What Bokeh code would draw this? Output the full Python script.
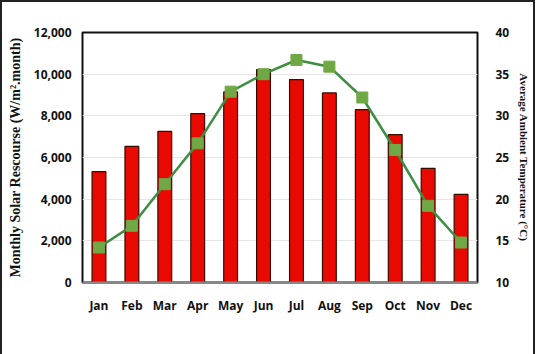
from bokeh.plotting import figure
from bokeh.models import Range1d, LinearAxis, NumeralTickFormatter, Legend, LegendItem, FixedTicker, ColumnDataSource
from bokeh.embed import file_html
from bokeh.resources import INLINE

months = ["Jan", "Feb", "Mar", "Apr", "May", "Jun", "Jul", "Aug", "Sep", "Oct", "Nov", "Dec"]
solar = [5320, 6530, 7250, 8110, 9150, 10220, 9740, 9100, 8300, 7100, 5480, 4230]
temp = [14.2, 16.8, 21.8, 26.7, 32.9, 35.0, 36.7, 35.9, 32.2, 25.9, 19.2, 14.8]

src = ColumnDataSource(dict(m=months, solar=solar, temp=temp))

p = figure(x_range=months, y_range=Range1d(0, 12000), frame_width=395, frame_height=250,
           output_backend="svg", toolbar_location=None,
           min_border_left=80, min_border_right=55, min_border_top=30, min_border_bottom=6)
p.styles = {"border": "2px solid #222222"}
p.extra_y_ranges = {"temp": Range1d(10, 40)}

bars = p.vbar(x="m", top="solar", width=0.42, source=src,
              fill_color="#E80A00", line_color="#3a0a00", line_width=1.2)
line = p.line(x="m", y="temp", source=src, y_range_name="temp",
              line_color="#3E8E41", line_width=2.5)
sq = p.scatter(x="m", y="temp", source=src, y_range_name="temp", marker="square",
               size=11, fill_color="#70A845", line_color="#70A845")

# legend swatch proxy
dummy_bar = p.scatter(x=[], y=[], marker="square", size=10,
                      fill_color="#8B3A0A", line_color="#F4A6E6")

p.outline_line_color = "#111111"
p.outline_line_width = 2

p.xgrid.grid_line_color = None
p.ygrid.grid_line_color = "#E6E6E6"
p.ygrid.ticker = FixedTicker(ticks=[2000, 4000, 6000, 8000, 10000, 12000])

ax = p.yaxis[0]
ax.ticker = FixedTicker(ticks=[0, 2000, 4000, 6000, 8000, 10000, 12000])
ax.formatter = NumeralTickFormatter(format="0,0")
ax.axis_line_color = None
ax.major_tick_line_color = None
ax.minor_tick_line_color = None
ax.major_label_text_font = "Open Sans"
ax.major_label_text_font_style = "bold"
ax.major_label_text_font_size = "12px"
ax.major_label_text_color = "#111111"
ax.axis_label = "Monthly Solar Rescourse (W/m².month)"
ax.axis_label_text_font = "Liberation Serif"
ax.axis_label_text_font_style = "bold"
ax.axis_label_text_font_size = "14px"
ax.axis_label_text_color = "#111111"
ax.axis_label_standoff = 8

ax2 = LinearAxis(y_range_name="temp", ticker=FixedTicker(ticks=[10, 15, 20, 25, 30, 35, 40]))
ax2.axis_line_color = None
ax2.major_tick_line_color = None
ax2.minor_tick_line_color = None
ax2.major_label_text_font = "Open Sans"
ax2.major_label_text_font_style = "bold"
ax2.major_label_text_font_size = "12px"
ax2.major_label_text_color = "#111111"
ax2.major_label_standoff = 12
ax2.axis_label = "Average Ambient Temperature (°C)"
ax2.axis_label_text_font = "Liberation Serif"
ax2.axis_label_text_font_style = "bold"
ax2.axis_label_text_font_size = "11px"
ax2.axis_label_text_color = "#111111"
ax2.axis_label_standoff = 6
p.add_layout(ax2, "right")

xa = p.xaxis[0]
xa.axis_line_color = "#888888"
xa.axis_line_width = 2
xa.major_tick_line_color = None
xa.minor_tick_line_color = None
xa.major_label_text_font = "Open Sans"
xa.major_label_text_font_style = "bold"
xa.major_label_text_font_size = "12px"
xa.major_label_text_color = "#111111"
xa.major_label_standoff = 8

legend = Legend(items=[LegendItem(label="Solar Radiation", renderers=[dummy_bar]),
                       LegendItem(label="Temperature", renderers=[line, sq])],
                orientation="horizontal", location="center",
                background_fill_alpha=0, border_line_color=None,
                label_text_font="Open Sans", label_text_font_size="12px",
                label_text_color="#111111", glyph_width=26, glyph_height=12,
                spacing=14, label_standoff=3, padding=2, margin=4)
p.add_layout(legend, "below")

open("out.html", "w").write(file_html(p, INLINE))
